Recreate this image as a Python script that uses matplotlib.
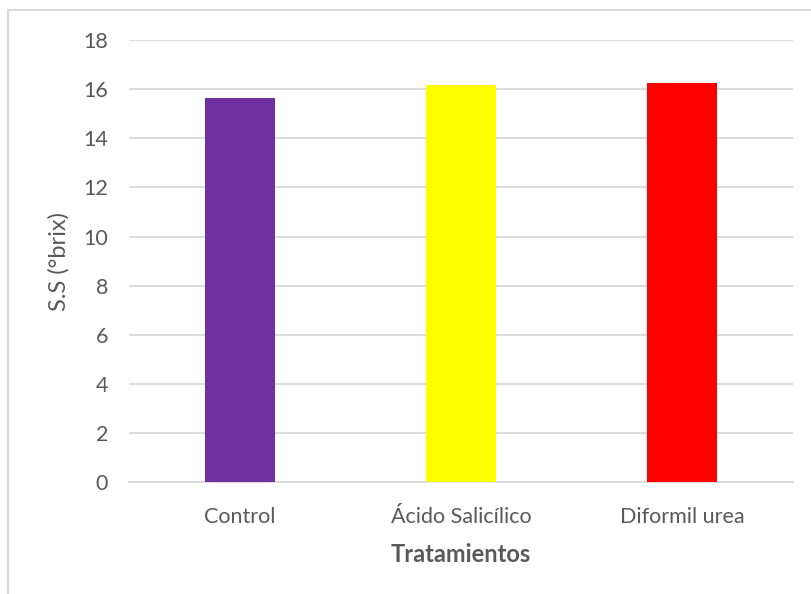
import matplotlib
matplotlib.use("Agg")
import matplotlib.pyplot as plt
from matplotlib.lines import Line2D

categories = ["Control", "Ácido Salicílico", "Diformil urea"]
values = [15.63, 16.15, 16.24]
colors = ["#7030A0", "#FFFF00", "#FF0000"]
yticks = [0, 2, 4, 6, 8, 10, 12, 14, 16, 18]

plt.rcParams["font.family"] = ["Lato", "DejaVu Sans"]

fig = plt.figure(figsize=(8.12, 5.94), dpi=100)
ax = fig.add_axes([0.1589, 0.188, 0.8177, 0.7447])

x = list(range(len(categories)))
ax.bar(x, values, width=0.316, color=colors, zorder=3)

ax.set_xlim(-0.5, len(categories) - 0.5)
ax.set_ylim(0, 18)
ax.set_yticks(yticks)
ax.set_xticks(x)
ax.set_xticklabels(categories)

ax.grid(axis="y", color="#d9d9d9", linewidth=1.3, zorder=0)
for side in ["top", "right", "left"]:
    ax.spines[side].set_visible(False)
ax.spines["bottom"].set_color("#d9d9d9")
ax.spines["bottom"].set_linewidth(1.3)

ax.tick_params(axis="both", length=0, labelsize=15.5, labelcolor="#595959")
ax.tick_params(axis="y", pad=15)
ax.tick_params(axis="x", pad=18)

ax.set_ylabel("S.S (°brix)", fontsize=17, color="#595959", labelpad=10)
ax.set_xlabel("Tratamientos", fontsize=17, color="#595959", fontweight="bold", labelpad=11)

# chart-area frame (left and top edges)
fig.add_artist(Line2D([8 / 812, 8 / 812], [0, 1 - 10 / 594], color="#d9d9d9", linewidth=1.5,
                      transform=fig.transFigure))
fig.add_artist(Line2D([8 / 812, 1], [1 - 10 / 594, 1 - 10 / 594], color="#d9d9d9", linewidth=1.5,
                      transform=fig.transFigure))

fig.savefig("out.png", dpi=100)
